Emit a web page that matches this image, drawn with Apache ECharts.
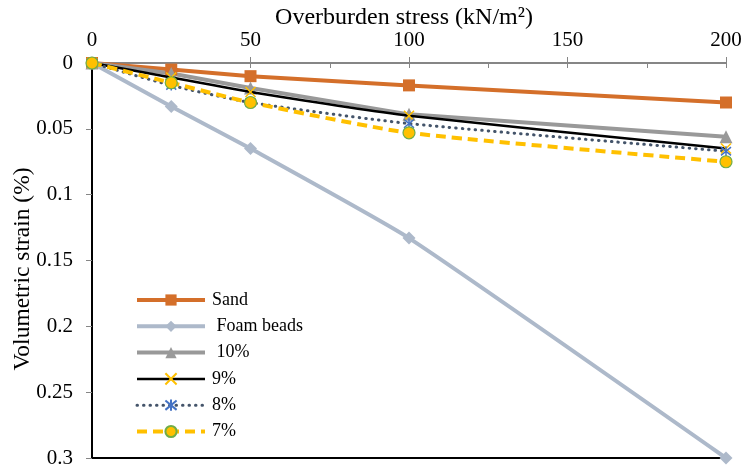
<!DOCTYPE html>
<html><head><meta charset="utf-8">
<script src="https://cdn.jsdelivr.net/npm/echarts@6/dist/echarts.min.js"></script>
<style>html,body{margin:0;padding:0;background:#fff}#c{width:746px;height:471px}</style>
</head><body><div id="c"></div>
<script>
const stress = [0, 25, 50, 100, 200];
const sand = [0, 0.005, 0.010, 0.017, 0.030];
const foam = [0, 0.033, 0.065, 0.133, 0.300];
const p10 = [0, 0.008, 0.019, 0.039, 0.056];
const p9 = [0, 0.011, 0.022, 0.040, 0.065];
const p8 = [0, 0.017, 0.030, 0.046, 0.067];
const p7 = [0, 0.015, 0.030, 0.053, 0.075];
const names = ['Sand', ' Foam beads', ' 10%', '9%', '8%', '7%'];
const xTicks = [0, 50, 100, 150, 200];
const yTicks = [0, 0.05, 0.1, 0.15, 0.2, 0.25, 0.3];
const xTitle = 'Overburden stress (kN/m²)';
const yTitle = 'Volumetric strain (%)';

const F = 'Liberation Serif';
const pair = a => stress.map((x, i) => [x, a[i]]);
const X = 'path://M0,0L10,10M10,0L0,10';
const STAR = 'path://M0,0L10,10M10,0L0,10M5,-1L5,11';

const chart = echarts.init(document.getElementById('c'), null, {renderer: 'canvas'});
chart.setOption({
  animation: false,
  grid: {left: 92, top: 63, right: 20, bottom: 13, outerBoundsMode: 'none', containLabel: false},
  textStyle: {fontFamily: F},
  graphic: [
    {type: 'text', x: 404, y: 18, style: {text: xTitle, font: '24px "Liberation Serif"', fill: '#000',
      textAlign: 'center', textVerticalAlign: 'middle'}},
    {type: 'text', x: 23, y: 269, rotation: Math.PI / 2, style: {text: yTitle, font: '23.5px "Liberation Serif"', fill: '#000',
      textAlign: 'center', textVerticalAlign: 'middle'}}
  ],
  legend: {
    orient: 'vertical', left: 130, top: 286, itemWidth: 68, itemHeight: 14, itemGap: 8.3,
    padding: 5,
    lineStyle: {width: 'inherit'},
    textStyle: {fontFamily: F, fontSize: 18, color: '#000', padding: [0, 0, 0, 2]},
    data: names
  },
  xAxis: [
    {type: 'value', position: 'top', min: 0, max: 200, interval: 50,
     axisLine: {lineStyle: {color: '#868686', width: 2}},
     axisTick: {show: true, inside: true, length: 5, lineStyle: {color: '#868686'}},
     minorTick: {show: true, splitNumber: 2, length: 5, lineStyle: {color: '#868686'}},
     axisLabel: {fontFamily: F, fontSize: 21, color: '#000', margin: 12,
       formatter: v => xTicks.includes(v) ? String(v) : ''},
     splitLine: {show: false}},
    {type: 'value', position: 'top', min: 0, max: 200, interval: 50,
     axisLine: {show: false}, axisTick: {show: true, length: 6, lineStyle: {color: '#868686'}},
     axisLabel: {show: false}, splitLine: {show: false}},
    {type: 'value', position: 'bottom', min: 0, max: 200,
     axisLine: {show: true, lineStyle: {color: '#000', width: 2}}, axisTick: {show: false},
     axisLabel: {show: false}, splitLine: {show: false}}
  ],
  yAxis: [
    {type: 'value', inverse: true, min: 0, max: 0.3, interval: 0.05,
     axisLine: {show: true, lineStyle: {color: '#868686', width: 2}},
     axisTick: {show: true, length: 6, lineStyle: {color: '#868686'}},
     axisLabel: {fontFamily: F, fontSize: 21, color: '#000', margin: 19,
       formatter: v => { const t = yTicks.find(y => Math.abs(y - v) < 1e-9); return t === undefined ? '' : String(t); }},
     splitLine: {show: false}},
    {type: 'value', inverse: true, min: 0, max: 0.3, position: 'right',
     axisLine: {show: true, lineStyle: {color: '#000', width: 2}}, axisTick: {show: false},
     axisLabel: {show: false}, splitLine: {show: false}}
  ],
  series: [
    {name: names[0], type: 'line', data: pair(sand), symbol: 'rect', symbolSize: 12,
     lineStyle: {color: '#D46F2A', width: 4}, itemStyle: {color: '#D46F2A'}, z: 3},
    {name: names[1], type: 'line', data: pair(foam), symbol: 'diamond', symbolSize: 13, smooth: 0.15,
     lineStyle: {color: '#ADB9CA', width: 4}, itemStyle: {color: '#ADB9CA'}, z: 2},
    {name: names[2], type: 'line', data: pair(p10), symbol: 'triangle', symbolSize: 13,
     lineStyle: {color: '#999999', width: 4}, itemStyle: {color: '#999999'}, z: 3},
    {name: names[3], type: 'line', data: pair(p9), symbol: X, symbolSize: 10, smooth: 0.2,
     lineStyle: {color: '#000', width: 2.5},
     itemStyle: {color: 'transparent', borderColor: '#FFC000', borderWidth: 1.5}, z: 4},
    {name: names[4], type: 'line', data: pair(p8), symbol: STAR, symbolSize: 10, smooth: 0.2,
     lineStyle: {color: '#44546A', width: 3, type: [0.5, 6], cap: 'round'},
     itemStyle: {color: 'transparent', borderColor: '#4472C4', borderWidth: 1.5}, z: 4},
    {name: names[5], type: 'line', data: pair(p7), symbol: 'circle', symbolSize: 12, smooth: 0.2,
     lineStyle: {color: '#FFC000', width: 4, type: [10, 6]},
     itemStyle: {color: '#FFC000', borderColor: '#70AD47', borderWidth: 1.2}, z: 5}
  ]
});
</script></body></html>
